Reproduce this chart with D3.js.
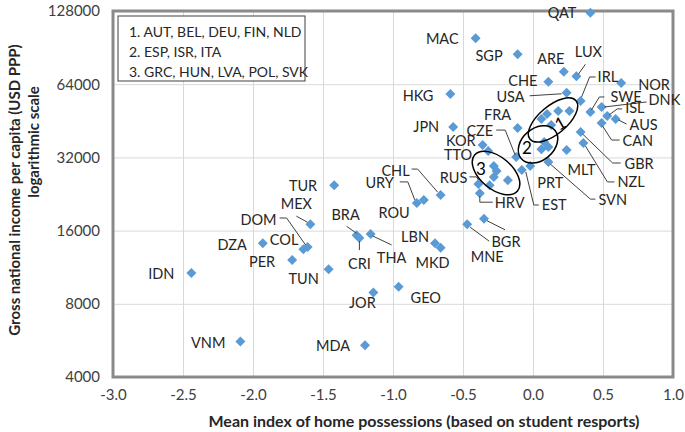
<!DOCTYPE html>
<html><head><meta charset="utf-8">
<script src="https://cdn.jsdelivr.net/npm/d3@7"></script>
<style>
body{margin:0;background:#fff}
text{font-family:Lato,"Open Sans",sans-serif}
</style>
</head><body>
<svg id="chart" width="685" height="432"></svg>
<script>
// ---------------- data ----------------
const countries = ["QAT","MAC","SGP","ARE","LUX","CHE","NOR","HKG","USA","IRL","SWE","DNK","ISL","AUS","CAN",
  "AUT","BEL","DEU","FIN","NLD","GBR","NZL","MLT","FRA","JPN","ESP","ISR","ITA","SVN","CZE","PRT","EST",
  "KOR","TTO","GRC","HUN","LVA","POL","SVK","RUS","HRV","CHL","URY","ROU","TUR","MEX","MNE","BGR",
  "BRA","CRI","THA","DOM","COL","DZA","LBN","MKD","PER","TUN","IDN","GEO","JOR","VNM","MDA"];
const homeIndex = [0.41,-0.41,-0.11,0.22,0.31,0.11,0.63,-0.59,0.24,0.34,0.41,0.49,0.53,0.59,0.49,
  0.06,0.13,0.18,0.10,0.26,0.34,0.36,0.24,-0.11,-0.57,0.08,0.11,0.06,0.11,-0.12,-0.02,-0.08,
  -0.36,-0.32,-0.28,-0.26,-0.28,-0.18,-0.31,-0.39,-0.38,-0.66,-0.83,-0.78,-1.42,-1.59,-0.47,-0.35,
  -1.26,-1.24,-1.16,-1.61,-1.64,-1.93,-0.70,-0.66,-1.72,-1.46,-2.44,-0.96,-1.14,-2.09,-1.20];
const gniPPP = [126000,99000,85000,72000,69000,65500,64700,58300,59000,54600,49200,51600,47400,46000,44300,
  46000,43500,49700,48300,49700,40700,36700,34300,42300,42700,37000,35300,34600,30600,32100,29500,28400,
  36000,34000,29500,28100,26600,25800,24600,24900,22800,22400,20800,21400,24600,17000,17000,17900,
  15300,14900,15500,13700,13400,14200,14200,13600,12100,11100,10700,9400,8900,5600,5400];
const groupNotes = ["1. AUT, BEL, DEU, FIN, NLD","2. ESP, ISR, ITA","3. GRC, HUN, LVA, POL, SVK"];
const groupIds = ["1","2","3"];
const groupCenterX = [0.143, 0.036, -0.264];
const groupCenterY = [45600, 36200, 27600];
const xTicks = [-3.0,-2.5,-2.0,-1.5,-1.0,-0.5,0.0,0.5,1.0];
const yTicks = [4000,8000,16000,32000,64000,128000];
const xTitle = "Mean index of home possessions (based on student resports)";
const yTitle = ["Gross national income per capita (USD PPP)","logarithmic scale"];

// ---------------- layout (pixel offsets for labels) ----------------
const labelLayout = {
QAT:[-14,0,"end"], MAC:[-17,0,"end"], SGP:[-15,1,"end"], ARE:[-13,-13,"middle"],
LUX:[12,-25,"middle",[[2,-2],[9,-12]]], CHE:[-11,-1,"end"], NOR:[17,1,"start"], HKG:[-17,1,"end"],
USA:[-42,4,"end",[[-37,3],[-5,1]]], IRL:[17,-24,"start",[[15,-24],[9,-24],[1,-4]]],
SWE:[20,-15,"start",[[14,-15],[9,-15],[1,-2]]], DNK:[47,-7,"start",[[45,-5],[3,0]]],
ISL:[18,-8,"start",[[15,-7],[10,-7],[2,-1]]], AUS:[14,5,"start",[[11,5],[3,1]]],
CAN:[21,17,"start",[[18,17],[10,17],[1,3]]], GBR:[44,31,"start",[[40,31],[32,31],[2,2]]],
NZL:[34,39,"start",[[31,39],[24,39],[2,3]]], MLT:[15,19,"middle"],
SVN:[50,37,"start",[[47,37],[42,37],[2,2]]], PRT:[20,17,"middle"],
EST:[20,34,"start",[[17,35],[12,35],[4,2]]], FRA:[-20,-13,"middle"],
CZE:[-23,-27,"end",[[-20,-27],[-11,-27],[-1,-2]]], JPN:[-14,0,"end"], KOR:[-7,-4,"end"], TTO:[-16,4,"end"],
RUS:[-11,-6,"end",[[-9,-7],[-2,-7],[0,-4]]], HRV:[15,9,"start",[[13,9],[0,9],[0,3]]],
MNE:[20,32,"middle",[[3,3],[22,17]]], BGR:[22,23,"middle",[[3,2],[21,11]]],
CHL:[-31,-25,"end",[[-29,-26],[-23,-26],[-3,-3]]], URY:[-23,-20,"end",[[-17,-21],[-9,-21],[-2,-3]]],
ROU:[-14,13,"end"], TUR:[-17,0,"end"], MEX:[-14,-21,"middle",[[-14,-8],[-3,-2]]],
DOM:[-31,-27,"end",[[-28,-29],[-21,-29],[-2,-2]]], COL:[-5,-10,"end"], DZA:[-16,1,"end"], PER:[-17,1,"end"],
TUN:[-25,9,"middle"], BRA:[-11,-21,"middle",[[-10,-9],[0,-2]]], CRI:[0,25,"middle",[[0,3],[0,12]]],
THA:[21,24,"middle",[[2,2],[21,11]]], LBN:[-6,-7,"end"], MKD:[-8,15,"middle"], IDN:[-17,0,"end"],
JOR:[-11,10,"middle"], GEO:[12,11,"start"], VNM:[-15,1,"end"], MDA:[-15,0,"end"]
};
const ellipseShape = [[30,14,-40,7,3,-30],[22,16,-40,-11,3,0],[28,16,40,-15,-5,0]];

// ---------------- drawing ----------------
const svg = d3.select("#chart");
const L = 113, R = 673, T = 11, B = 377;
const x = d3.scaleLinear().domain([-3, 1]).range([L, R]);
const y = d3.scaleLog().base(2).domain([4000, 128000]).range([B, T]);
const FONT = 'Lato,"Open Sans",sans-serif';

// gridlines
svg.append("g").attr("transform", `translate(0,${B})`)
  .call(d3.axisBottom(x).tickValues(xTicks).tickSize(-(B - T)).tickFormat(""))
  .call(g => { g.select(".domain").remove(); g.selectAll("line").attr("stroke", "#d9d9d9"); });
svg.append("g").attr("transform", `translate(${L},0)`)
  .call(d3.axisLeft(y).tickValues(yTicks).tickSize(-(R - L)).tickFormat(""))
  .call(g => { g.select(".domain").remove(); g.selectAll("line").attr("stroke", "#d9d9d9"); });

// tick labels
svg.append("g").attr("transform", `translate(0,${B})`)
  .call(d3.axisBottom(x).tickValues(xTicks).tickSize(0).tickPadding(12).tickFormat(d => d.toFixed(1)))
  .call(g => { g.select(".domain").remove(); g.selectAll("text").attr("font-size", 15)
    .attr("font-family", FONT).attr("fill", "#404040"); });
svg.append("g").attr("transform", `translate(${L},0)`)
  .call(d3.axisLeft(y).tickValues(yTicks).tickSize(0).tickPadding(13).tickFormat(d => String(d)))
  .call(g => { g.select(".domain").remove(); g.selectAll("text").attr("font-size", 15)
    .attr("font-family", FONT).attr("fill", "#404040"); });

// frame
svg.append("rect").attr("x", L).attr("y", T).attr("width", R - L).attr("height", B - T)
  .attr("fill", "none").attr("stroke", "#8a8a8a").attr("stroke-width", 3);

// axis titles
svg.append("text").attr("x", 424).attr("y", 420).attr("text-anchor", "middle")
  .attr("dominant-baseline", "central").attr("font-size", 16).attr("font-weight", "bold")
  .attr("fill", "#262626").text(xTitle);
svg.append("text").attr("transform", "translate(14,190) rotate(-90)").attr("text-anchor", "middle")
  .attr("dominant-baseline", "central").attr("font-size", 15).attr("font-weight", "bold")
  .attr("fill", "#262626").text(yTitle[0]);
svg.append("text").attr("transform", "translate(33,142) rotate(-90)").attr("text-anchor", "middle")
  .attr("dominant-baseline", "central").attr("font-size", 15).attr("font-weight", "bold")
  .attr("fill", "#262626").text(yTitle[1]);

// points
const pts = countries.map((c, i) => ({ c, px: x(homeIndex[i]), py: y(gniPPP[i]) }));
const diamond = d3.symbol().type(d3.symbolSquare).size(50);
svg.append("g").selectAll("path").data(pts).join("path")
  .attr("d", diamond).attr("fill", "#5b9bd5")
  .attr("transform", d => `translate(${d.px},${d.py}) rotate(45)`);

// leaders & labels
const lab = svg.append("g");
pts.filter(d => labelLayout[d.c]).forEach(d => {
  const [dx, dy, anchor, leader] = labelLayout[d.c];
  if (leader) {
    lab.append("path").attr("d", d3.line()(leader.map(p => [d.px + p[0], d.py + p[1]])))
      .attr("fill", "none").attr("stroke", "#404040").attr("stroke-width", 1);
  }
  lab.append("text").attr("x", d.px + dx).attr("y", d.py + dy).attr("text-anchor", anchor)
    .attr("dominant-baseline", "central").attr("font-size", 14.5).attr("fill", "#262626").text(d.c);
});

// group ellipses
groupIds.forEach((g, i) => {
  const cx = x(groupCenterX[i]), cy = y(groupCenterY[i]);
  const [rx, ry, rot, tx, ty, trot] = ellipseShape[i];
  svg.append("ellipse").attr("cx", 0).attr("cy", 0).attr("rx", rx).attr("ry", ry)
    .attr("transform", `translate(${cx},${cy}) rotate(${rot})`)
    .attr("fill", "none").attr("stroke", "#000").attr("stroke-width", 1.5);
  svg.append("text").attr("transform", `translate(${cx + tx},${cy + ty}) rotate(${trot})`)
    .attr("text-anchor", "middle").attr("dominant-baseline", "central")
    .attr("font-size", 17).attr("fill", "#000").text(g);
});

// legend note box
const box = svg.append("g");
box.append("rect").attr("x", 118).attr("y", 16).attr("width", 187).attr("height", 65)
  .attr("fill", "#fff").attr("stroke", "#404040").attr("stroke-width", 1);
groupNotes.forEach((t, i) => {
  box.append("text").attr("x", 129).attr("y", 31 + i * 20).attr("dominant-baseline", "central")
    .attr("font-size", 14).attr("fill", "#262626").text(t);
});
</script>
</body></html>
